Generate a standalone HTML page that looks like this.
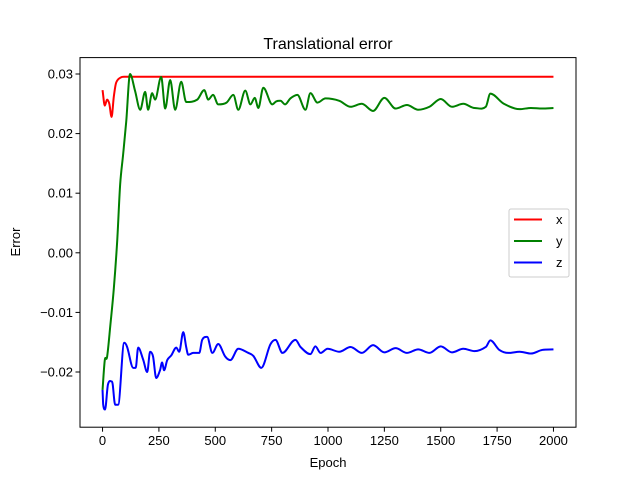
<!DOCTYPE html>
<html><head><meta charset="utf-8"><style>
body{margin:0;background:#fff}
svg{display:block;font-family:"Liberation Sans","DejaVu Sans",sans-serif}
</style></head><body>
<svg id="chart" width="640" height="480" xmlns="http://www.w3.org/2000/svg">
<rect width="640" height="480" fill="#fff"/>
<text x="328" y="49" text-anchor="middle" font-size="16">Translational error</text>
<g id="plot"></g>
<rect x="80" y="57.6" width="496" height="369.6" fill="none" stroke="#000" stroke-width="1"/>
<text x="328" y="467" text-anchor="middle" font-size="13">Epoch</text>
<text transform="translate(20,242) rotate(-90)" text-anchor="middle" font-size="13">Error</text>
<g>
<rect x="509" y="209" width="60" height="68" rx="2" fill="#fff" fill-opacity="0.8" stroke="#ccc"/>
<line x1="514" y1="219.5" x2="542" y2="219.5" stroke="#f00" stroke-width="2"/>
<text x="556" y="224" font-size="13">x</text>
<line x1="514" y1="241" x2="542" y2="241" stroke="#008000" stroke-width="2"/>
<text x="556" y="245.5" font-size="13">y</text>
<line x1="514" y1="262.5" x2="542" y2="262.5" stroke="#00f" stroke-width="2"/>
<text x="556" y="267" font-size="13">z</text>
</g>
</svg>
<script>
const xTicks=[0,250,500,750,1000,1250,1500,1750,2000];
const yTicks=[0.03,0.02,0.01,0,-0.01,-0.02];
const yTickLabels=["0.03","0.02","0.01","0.00","−0.01","−0.02"];
const xEpochs=[0,10,20,30,40,50,60,80,100,150,2000];
const xVals=[0.0273,0.0247,0.0257,0.025,0.0228,0.0262,0.0285,0.0294,0.02953,0.02953,0.02953];
const yEpochs=[0,10,20,35,50,65,78,91,105,122,144,167,189,202,220,233,260,278,300,322,349,371,420,451,469,490,513,550,580,602,633,656,675,691,713,753,770,789,810,833,864,900,922,953,989,1050,1100,1150,1200,1250,1300,1350,1400,1450,1500,1550,1600,1650,1700,1720,1780,1850,1900,1950,2000];
const yVals=[-0.023,-0.018,-0.0175,-0.012,-0.006,0.002,0.0114,0.0164,0.022,0.030,0.0272,0.024,0.027,0.024,0.0268,0.0257,0.0295,0.0242,0.029,0.024,0.0287,0.0253,0.0257,0.0273,0.0257,0.0265,0.0249,0.0252,0.0265,0.024,0.0272,0.0249,0.026,0.0243,0.0277,0.0249,0.0254,0.0255,0.0249,0.0259,0.0265,0.024,0.0268,0.0252,0.0259,0.0255,0.0245,0.025,0.0238,0.026,0.0242,0.0248,0.024,0.0245,0.0258,0.0245,0.025,0.0243,0.0245,0.0267,0.025,0.0241,0.0243,0.0242,0.0243];
const zEpochs=[0,3,11,24,42,56,69,96,109,136,147,158,180,198,211,224,238,255,264,273,287,305,327,340,358,371,380,402,429,442,464,487,513,544,567,602,647,669,704,744,767,798,842,856,878,922,944,967,998,1050,1100,1150,1200,1250,1300,1350,1400,1450,1500,1550,1600,1650,1700,1720,1760,1800,1850,1900,1950,2000];
const zVals=[-0.023,-0.0255,-0.0263,-0.0221,-0.0216,-0.0255,-0.0255,-0.0151,-0.0158,-0.0193,-0.0193,-0.0159,-0.0179,-0.0200,-0.0166,-0.0174,-0.0210,-0.0197,-0.0184,-0.0197,-0.0180,-0.0172,-0.0159,-0.0166,-0.0133,-0.0158,-0.0171,-0.0168,-0.0168,-0.0146,-0.0141,-0.0168,-0.0153,-0.0174,-0.0180,-0.0161,-0.0168,-0.0173,-0.0193,-0.0154,-0.0146,-0.0168,-0.0149,-0.0146,-0.0158,-0.0170,-0.0157,-0.0168,-0.0161,-0.0166,-0.0158,-0.0168,-0.0155,-0.0167,-0.0160,-0.0168,-0.0162,-0.0168,-0.0157,-0.0167,-0.0161,-0.0165,-0.0158,-0.0147,-0.0163,-0.0168,-0.0166,-0.0169,-0.0163,-0.0162];
const X0=80,X1=576,Y0=57.6,Y1=427.2,xmin=-100,xmax=2100,ymin=-0.02926,ymax=0.03275;
function sx(v){return X0+(v-xmin)/(xmax-xmin)*(X1-X0);}
function sy(v){return Y1-(v-ymin)/(ymax-ymin)*(Y1-Y0);}
const NS="http://www.w3.org/2000/svg";
const g=document.getElementById('plot');
function mk(t,a){const e=document.createElementNS(NS,t);for(const k in a)e.setAttribute(k,a[k]);g.appendChild(e);return e;}
xTicks.forEach(t=>{
const l=mk('line',{x1:sx(t),x2:sx(t),y1:Y1,y2:Y1+4.5,stroke:'#000'});


const tx=mk('text',{x:sx(t),y:Y1+18,'text-anchor':'middle','font-size':'13'});
tx.textContent=t;


});
yTicks.forEach((t,i)=>{
const l=mk('line',{x1:X0-4.5,x2:X0,y1:sy(t),y2:sy(t),stroke:'#000'});


const tx=mk('text',{x:X0-7,y:sy(t)+4.5,'text-anchor':'end','font-size':'13'});
tx.textContent=yTickLabels[i];


});
function smoothPath(pts){
const n=pts.length,m=[];
for(let i=0;i<n;i++){
const a=pts[Math.max(0,i-1)],b=pts[Math.min(n-1,i+1)];
let s=(b[1]-a[1])/(b[0]-a[0]);
if(i>0&&i<n-1){
const s1=(pts[i][1]-pts[i-1][1]),s2=(pts[i+1][1]-pts[i][1]);
if(s1*s2<=0)s=0;
}
m.push(s);
}
let d='M'+pts[0][0]+','+pts[0][1];
for(let i=0;i<n-1;i++){
const p1=pts[i],p2=pts[i+1],dx=p2[0]-p1[0];
d+=' C'+(p1[0]+dx/3)+','+(p1[1]+m[i]*dx/3)+' '+(p2[0]-dx/3)+','+(p2[1]-m[i+1]*dx/3)+' '+p2[0]+','+p2[1];
}
return d;
}
function series(ep,vals,col,name){
const pts=ep.map((e,i)=>[sx(e),sy(vals[i])]);
const p=mk('path',{d:smoothPath(pts),fill:'none',stroke:col,'stroke-width':2,'stroke-linejoin':'round'});


}
series(xEpochs,xVals,'#f00','series-x-line');
series(yEpochs,yVals,'#008000','series-y-line');
series(zEpochs,zVals,'#00f','series-z-line');
</script>
</body></html>
